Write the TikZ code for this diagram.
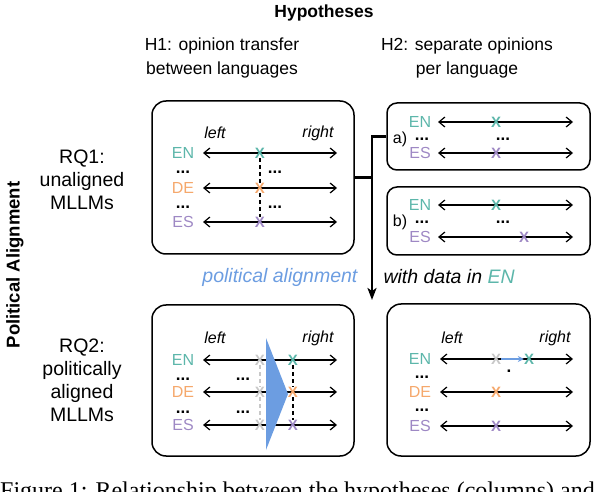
\documentclass[tikz,border=0pt]{standalone}
\usepackage{fontspec}
\setmainfont{Liberation Sans}
\newfontfamily\capfont{Liberation Serif}
\usetikzlibrary{arrows.meta}

\definecolor{enteal}{RGB}{92,182,170}
\definecolor{deorange}{RGB}{245,168,108}
\definecolor{espurple}{RGB}{158,136,196}
\definecolor{shiftblue}{RGB}{108,157,225}
\definecolor{oldgrey}{RGB}{200,200,200}

\tikzset{
  panel/.style={draw, line width=1.5pt, rounded corners=14pt, minimum width=202pt, inner sep=0pt},
  subpanel/.style={panel, rounded corners=10pt, minimum width=203pt},
  axis/.style={{Straight Barb[length=6pt,width=10pt]}-{Straight Barb[length=6pt,width=10pt]}, line width=1.2pt},
  lang/.style={font=\fontsize{16}{16}\selectfont, inner sep=0pt},
  opin/.style={font=\fontsize{15}{15}\selectfont\bfseries, inner sep=0pt},
  gap/.style={font=\fontsize{17}{17}\selectfont\bfseries, inner sep=0pt},
  side/.style={font=\fontsize{16}{16}\selectfont\itshape, inner sep=0pt},
  head/.style={font=\fontsize{17.5}{24}\selectfont, align=center},
  rq/.style={font=\fontsize{19.5}{23}\selectfont, align=center},
  link/.style={line width=1.4pt, dash pattern=on 4pt off 3pt},
  trunk/.style={line width=2.2pt}
}

\begin{document}
\begin{tikzpicture}[x=1pt, y=-1pt]
  \useasboundingbox (0,0) rectangle (598,492);
  \clip (0,0) rectangle (598,492);

  % Headers
  \node [font=\fontsize{17.5}{21}\selectfont\bfseries] (hyp) at (324,13) {Hypotheses};
  \node [head] (hone) at (222,58) {H1: opinion transfer\\ between languages};
  \node [head] (htwo) at (467,58) {H2: separate opinions\\ per language};
  \node [rotate=90, font=\fontsize{18.5}{22}\selectfont\bfseries] (polal) at (15,265) {Political Alignment};
  \node [rq] (rqone) at (82,180) {RQ1:\\ unaligned\\ MLLMs};
  \node [rq] (rqtwo) at (82,380) {RQ2:\\ politically\\ aligned\\ MLLMs};

  % Panels
  \node [panel, minimum height=153pt] (boxA) at (253,177.5) {};
  \node [subpanel, minimum height=67pt] (boxHa) at (488.5,136.5) {};
  \node [subpanel, minimum height=68pt] (boxHb) at (488.5,221) {};
  \node [panel, minimum height=151pt] (boxC) at (253,380.5) {};
  \node [panel, minimum width=203pt, minimum height=152pt] (boxD) at (488.5,380) {};

  % RQ1 / H1
  \node [side] (aleft) at (215,133) {left};
  \node [side] (aright) at (318,133) {right};
  \draw [axis] (203,153) -- (337,153);
  \draw [axis] (203,188) -- (337,188);
  \draw [axis] (203,222) -- (337,222);
  \node [lang, enteal] (aENl) at (183,153) {EN};
  \node [lang, deorange] (aDEl) at (183,188) {DE};
  \node [lang, espurple] (aESl) at (183,222) {ES};
  \node [gap] at (183,172) {...};
  \node [gap] at (183,207) {...};
  \node [gap] at (275,172) {...};
  \node [gap] at (275,207) {...};
  \node [opin, enteal] (aEN) at (260,153) {X};
  \node [opin, deorange] (aDE) at (260,188) {X};
  \node [opin, espurple] (aES) at (260,222) {X};
  \draw [link] (aEN) -- (aDE);
  \draw [link] (aDE) -- (aES);

  % RQ1 / H2 a)
  \draw [axis] (438,122) -- (573,122);
  \draw [axis] (438,153) -- (573,153);
  \node [lang, enteal] (haENl) at (420,122) {EN};
  \node [lang, espurple] (haESl) at (420,153) {ES};
  \node [lang] (ha) at (400,139) {a)};
  \node [gap] at (422,139) {...};
  \node [gap] at (503,139) {...};
  \node [opin, enteal] (haEN) at (496,122) {X};
  \node [opin, espurple] (haES) at (496,153) {X};

  % RQ1 / H2 b)
  \draw [axis] (438,205) -- (573,205);
  \draw [axis] (438,237) -- (573,237);
  \node [lang, enteal] (hbENl) at (420,205) {EN};
  \node [lang, espurple] (hbESl) at (420,237) {ES};
  \node [lang] (hb) at (400,222) {b)};
  \node [gap] at (422,222) {...};
  \node [gap] at (503,222) {...};
  \node [opin, enteal] (hbEN) at (496,205) {X};
  \node [opin, espurple] (hbES) at (524,237) {X};

  % Alignment step
  \coordinate (tip) at (372,300);
  \draw [trunk] (boxA.east) -- (boxA.east -| tip);
  \draw [trunk, -{Stealth[length=12pt,width=9pt,inset=3pt]}] (boxHa.west) -| (tip);
  \node [font=\fontsize{19.5}{23}\selectfont\itshape, text=shiftblue, anchor=east] (polstep) at (361,277) {political alignment};
  \node [font=\fontsize{19.5}{23}\selectfont\itshape, anchor=west] (withdata) at (380,277) {with data in \textcolor{enteal}{EN}};

  % RQ2 / H1
  \node [side] (cleft) at (215,338) {left};
  \node [side] (cright) at (318,338) {right};
  \draw [axis] (203,360) -- (337,360);
  \draw [axis] (203,392) -- (337,392);
  \draw [axis] (203,425) -- (337,425);
  \fill [shiftblue] (266,338) -- (288,394) -- (266,450) -- cycle;
  \node [lang, enteal] (cENl) at (183,360) {EN};
  \node [lang, deorange] (cDEl) at (183,392) {DE};
  \node [lang, espurple] (cESl) at (183,425) {ES};
  \node [gap] at (183,379) {...};
  \node [gap] at (183,412) {...};
  \node [gap] at (243,379) {...};
  \node [gap] at (243,412) {...};
  \node [opin, oldgrey] (cENo) at (260,360) {X};
  \node [opin, oldgrey] (cDEo) at (260,392) {X};
  \node [opin, oldgrey] (cESo) at (260,425) {X};
  \node [opin, enteal] (cEN) at (293,360) {X};
  \node [opin, deorange] (cDE) at (293,392) {X};
  \node [opin, espurple] (cES) at (293,425) {X};
  \draw [link, oldgrey] (cENo) -- (cDEo);
  \draw [link, oldgrey] (cDEo) -- (cESo);
  \draw [link] (cEN) -- (cDE);
  \draw [link] (cDE) -- (cES);

  % RQ2 / H2
  \node [side] (dleft) at (452,338) {left};
  \node [side] (dright) at (555,338) {right};
  \draw [axis] (440,359) -- (573,359);
  \draw [axis] (440,392) -- (573,392);
  \draw [axis] (440,426) -- (573,426);
  \node [lang, enteal] (dENl) at (420,359) {EN};
  \node [lang, deorange] (dDEl) at (420,392) {DE};
  \node [lang, espurple] (dESl) at (420,426) {ES};
  \node [gap] at (422,377) {...};
  \node [gap] at (422,410) {...};
  \node [gap] (stray) at (509,371) {.};
  \node [opin, oldgrey] (dENo) at (496,359) {X};
  \node [opin, enteal] (dEN) at (529,359) {X};
  \node [opin, deorange] (dDE) at (496,392) {X};
  \node [opin, espurple] (dES) at (496,426) {X};
  \draw [shiftblue, line width=1.5pt, -{Stealth[length=6pt,width=6pt]}] (dENo) -- (dEN);

  % Caption
  \node [font=\fontsize{24}{28}\selectfont\capfont, anchor=base west, inner sep=0pt] (cap) at (0,498) {Figure 1: Relationship between the hypotheses (columns) and};
\end{tikzpicture}
\end{document}
